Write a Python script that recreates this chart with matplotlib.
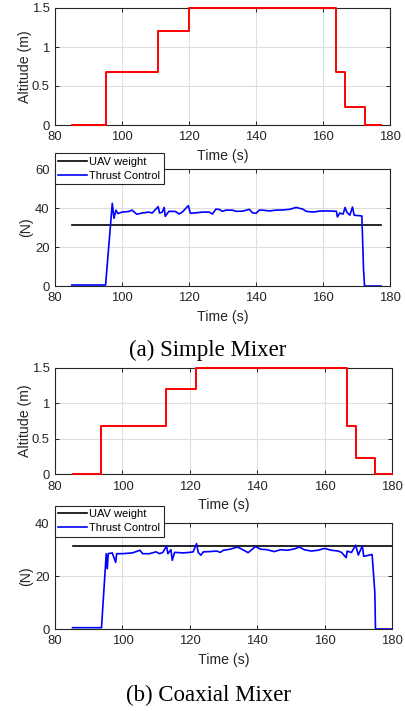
import matplotlib
matplotlib.use("Agg")
import matplotlib.pyplot as plt

# ---------------- data ----------------
# (a) Simple mixer: altitude setpoint steps
alt_a_t = [85, 95.1, 95.1, 110.6, 110.6, 119.9, 119.9, 163.9, 163.9, 166.6, 166.6, 172.5, 172.5, 177.3]
alt_a_v = [0, 0, 0.68, 0.68, 1.2, 1.2, 1.5, 1.5, 0.68, 0.68, 0.23, 0.23, 0, 0]

# (a) thrust control
thr_a_t = [85, 95.1, 97.1, 97.6, 98.2, 98.8, 100, 102, 103, 104.4, 106, 108, 109,
           110.8, 111.2, 112, 112.6, 112.9, 114, 116, 117, 118, 119.8, 120.4, 122,
           124, 126, 127, 128, 129, 130, 131, 133, 134, 136, 138, 139, 140, 141, 142,
           144, 146, 148, 150, 152, 154, 155, 157, 159, 161, 163, 164, 164.3, 165,
           166, 166.6, 167.1, 168, 168.8, 169.3, 171.6, 172.1, 172.4, 177.3]
thr_a_v = [0.5, 0.5, 42.5, 34.8, 39, 37.2, 38, 38.3, 39, 36.9, 37.5, 38, 37.5,
           40.8, 37.5, 38, 40.4, 35.8, 38.4, 38.3, 37, 38, 41.3, 37.4, 37.6,
           38, 38, 37, 39.5, 39.4, 38.4, 39, 39, 38.4, 38.5, 39.4, 37.6, 37.4, 39, 39,
           38.6, 39, 39.1, 39.4, 40.4, 39.5, 38.4, 38, 38.5, 38.6, 38.5, 38.4, 35.5, 37.5,
           37, 40.4, 38, 36.4, 40.6, 36.4, 36, 8.6, 0, 0]
weight_a_t = [85, 177.3]
weight_a_v = [31.4, 31.4]

# (b) Coaxial mixer: altitude setpoint steps
alt_b_t = [85.2, 93.6, 93.6, 112.9, 112.9, 121.9, 121.9, 166.7, 166.7, 169.3, 169.3, 174.9, 174.9, 180]
alt_b_v = [0, 0, 0.68, 0.68, 1.2, 1.2, 1.5, 1.5, 0.68, 0.68, 0.23, 0.23, 0, 0]

# (b) thrust control
thr_b_t = [85.2, 93.8, 95.2, 95.5, 95.8, 97, 98, 98.3, 100, 103, 105.2, 106, 108,
           110, 111, 112, 113.1, 113.5, 114.4, 114.8, 115.5, 118, 120, 121, 122,
           122.5, 123.3, 124, 126, 128, 129, 130, 132, 134, 135, 137.3, 139.5, 141,
           143, 145, 147, 149, 151, 152.5, 154, 156, 158, 160, 162, 164, 165, 166.4,
           166.7, 167, 168, 169.2, 170, 171.2, 171.6, 174.1, 174.9, 175.1, 180]
thr_b_v = [0.5, 0.5, 28.5, 22.8, 28.5, 28.8, 25.2, 28.5, 28.5, 28.8, 29.8, 28.5, 28.5,
           29.2, 28.5, 29, 31.4, 28.5, 30, 26, 29, 28.8, 29, 29.2, 32.3,
           29, 27.9, 29.2, 29.3, 29.5, 29, 29.8, 30.2, 31, 30.5, 28.9, 31.2, 30.2,
           30, 29.3, 30, 29.8, 30.3, 31, 30, 29.5, 29.8, 30.5, 29.8, 29.5, 29, 27,
           29.5, 29.3, 29, 31.7, 28, 31.5, 27.5, 28.2, 14, 0, 0]
weight_b_t = [85.2, 180]
weight_b_v = [31.4, 31.4]

xticks = [80, 100, 120, 140, 160, 180]
alt_yticks = [0, 0.5, 1, 1.5]
alt_yticklabels = ["0", "0.5", "1", "1.5"]
thr_a_yticks = [0, 20, 40, 60]
thr_b_yticks = [0, 20, 40]
legend_labels = ["UAV weight", "Thrust Control"]
captions = ["(a) Simple Mixer", "(b) Coaxial Mixer"]

# ---------------- style ----------------
plt.rcParams["font.family"] = ["Liberation Sans", "DejaVu Sans"]
TICK_FS = 9.4
LAB_FS = 10.2
TXT = "#262626"

W, H = 406, 711
fig = plt.figure(figsize=(W / 100, H / 100), dpi=100)


def ax_rect(l, r, t, b):
    return [l / W, 1 - b / H, (r - l) / W, (b - t) / H]


def style(ax, ylim, yticks, yticklabels=None):
    ax.set_xlim(80, 180)
    ax.set_ylim(*ylim)
    ax.set_xticks(xticks)
    ax.set_yticks(yticks)
    if yticklabels is not None:
        ax.set_yticklabels(yticklabels)
    ax.tick_params(direction="in", length=3, width=0.7, top=True, right=True,
                   labelsize=TICK_FS, colors=TXT)
    ax.tick_params(axis="x", pad=4.5)
    ax.tick_params(axis="y", pad=4)
    ax.grid(True, color="#dedede", linewidth=0.8)
    ax.set_axisbelow(True)
    for s in ax.spines.values():
        s.set_linewidth(0.8)
        s.set_color(TXT)
    ax.set_xlabel("Time (s)", fontsize=LAB_FS, color=TXT, labelpad=4)


ax1 = fig.add_axes(ax_rect(55, 390, 8, 125))
ax1.plot(alt_a_t, alt_a_v, color="#ff0000", lw=1.4, clip_on=False, zorder=3)
style(ax1, (0, 1.5), alt_yticks, alt_yticklabels)
ax1.set_ylabel("Altitude (m)", fontsize=LAB_FS, color=TXT, labelpad=0)

ax2 = fig.add_axes(ax_rect(55, 390, 169.3, 286))
ax2.plot(weight_a_t, weight_a_v, color="black", lw=1.2, label=legend_labels[0])
ax2.plot(thr_a_t, thr_a_v, color="#0000ff", lw=1.2, label=legend_labels[1])
style(ax2, (0, 60), thr_a_yticks)
ax2.set_ylabel("(N)", fontsize=LAB_FS, color=TXT, labelpad=1)
leg_kw = dict(loc="upper left", borderaxespad=0, fontsize=8.0, handlelength=2.6,
              handletextpad=0.2, borderpad=0.3, labelspacing=0.35, fancybox=False,
              framealpha=1, edgecolor=TXT)
lg = ax2.legend(bbox_to_anchor=(0, 1 + 16 / 117), **leg_kw)
lg.get_frame().set_linewidth(0.8)

ax3 = fig.add_axes(ax_rect(55, 392, 368, 474.3))
ax3.plot(alt_b_t, alt_b_v, color="#ff0000", lw=1.4, clip_on=False, zorder=3)
style(ax3, (0, 1.5), alt_yticks, alt_yticklabels)
ax3.set_ylabel("Altitude (m)", fontsize=LAB_FS, color=TXT, labelpad=0)

ax4 = fig.add_axes(ax_rect(55, 392, 523.3, 629))
ax4.plot(weight_b_t, weight_b_v, color="black", lw=1.2, label=legend_labels[0])
ax4.plot(thr_b_t, thr_b_v, color="#0000ff", lw=1.2, label=legend_labels[1])
style(ax4, (0, 40), thr_b_yticks)
ax4.set_ylabel("(N)", fontsize=LAB_FS, color=TXT, labelpad=1)
lg = ax4.legend(bbox_to_anchor=(0, 1 + 17.3 / 105.7), **leg_kw)
lg.get_frame().set_linewidth(0.8)

fig.text(208 / W, 1 - 350 / H, captions[0], ha="center", va="center",
         fontsize=16.5, family=["Liberation Serif", "DejaVu Serif"])
fig.text(208 / W, 1 - 695 / H, captions[1], ha="center", va="center",
         fontsize=16.5, family=["Liberation Serif", "DejaVu Serif"])

fig.savefig("out.png", dpi=100)
